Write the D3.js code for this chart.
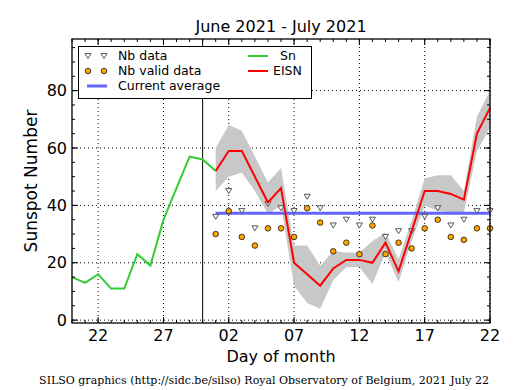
<!DOCTYPE html>
<html>
<head>
<meta charset="utf-8">
<title>SILSO - EISN June/July 2021</title>
<script src="https://cdnjs.cloudflare.com/ajax/libs/d3/7.8.5/d3.min.js"></script>
<style>
body {
  margin: 0px;
  background-color: #ffffff;
}
svg text {
  font-family: "DejaVu Sans", sans-serif;
  fill: #000;
}
.grid line {
  stroke: #000;
  stroke-width: 1;
  stroke-dasharray: 1,3;
}
.footer {
  font-family: "DejaVu Serif", serif !important;
}
</style>
</head>
<body>
<div class="target"></div>
<script>
// sunspot number (green), June 20 - July 1
var snDates = ["2021-06-20", "2021-06-21", "2021-06-22", "2021-06-23", "2021-06-24", "2021-06-25",
  "2021-06-26", "2021-06-27", "2021-06-28", "2021-06-29", "2021-06-30", "2021-07-01"];
var snValues = [15, 13, 16, 11, 11, 23, 19, 35, 46, 57, 56, 52];

// estimated ISN, July 1 - 22
var eisnDates = ["2021-07-01", "2021-07-02", "2021-07-03", "2021-07-04", "2021-07-05", "2021-07-06",
  "2021-07-07", "2021-07-08", "2021-07-09", "2021-07-10", "2021-07-11", "2021-07-12",
  "2021-07-13", "2021-07-14", "2021-07-15", "2021-07-16", "2021-07-17", "2021-07-18",
  "2021-07-19", "2021-07-20", "2021-07-21", "2021-07-22"];
var eisnValues = [52, 59, 59, 50, 41, 46, 20, 16, 12, 18, 21, 21, 20, 27, 17, 31, 45, 45, 44, 42, 65, 74];
var eisnHigh = [60, 68, 66, 57, 48, 53, 26, 26, 19, 24, 23.6, 23.5, 27.6, 30.5, 21.3, 34.6, 49.5, 50.5, 50.5, 45, 71, 80];
var eisnLow = [45, 50, 51.5, 45, 37, 40, 12, 6, 4, 14, 18.4, 18.5, 12.6, 23.6, 13.2, 27.6, 40, 38, 37.5, 37.5, 59, 67];
var nbData = [36, 45, 38, 32, 40.5, 39, 38, 43, 39, 33, 35, 33, 35, 29, 31, 31, 36, 39, 33, 35, 38, 38];
var nbValid = [30, 38, 29, 26, 32, 32, 29, 39, 34, 24, 27, 23, 33, 23, 27, 25, 32, 35, 29, 28, 32, 32];
var currentAverage = 37.3;

var xDomain = ["2021-06-20", "2021-07-22"];
var monthStart = "2021-06-30";
var xTicks = ["2021-06-22", "2021-06-27", "2021-07-02", "2021-07-07", "2021-07-12", "2021-07-17", "2021-07-22"];
var yTicks = [0, 20, 40, 60, 80];
var yDomain = [-1, 98];

var titleText = "June 2021 - July 2021";
var footerText = "SILSO graphics (http://sidc.be/silso) Royal Observatory of Belgium, 2021 July 22";

drawChart('.target');

function drawChart(target) {
  'use strict';

  var W = 515, H = 390,
    margin = {top: 39, right: 25, bottom: 67, left: 72},
    width = W - margin.left - margin.right,
    height = H - margin.top - margin.bottom,
    parse = d3.utcParse("%Y-%m-%d");

  var svg = d3.select(target).append('svg')
    .attr("width", W)
    .attr("height", H);

  var x = d3.scaleUtc()
    .domain(xDomain.map(parse))
    .range([0, width]);
  var y = d3.scaleLinear()
    .domain(yDomain)
    .range([height, 0]);

  var g = svg.append("g")
    .attr("transform", "translate(" + margin.left + "," + margin.top + ")");

  // grid
  var grid = g.append("g").attr("class", "grid");
  grid.selectAll(".gx").data(xTicks.map(parse)).enter().append("line")
    .attr("x1", function(d) { return x(d); }).attr("x2", function(d) { return x(d); })
    .attr("y1", 0).attr("y2", height);
  grid.selectAll(".gy").data(yTicks).enter().append("line")
    .attr("x1", 0).attr("x2", width)
    .attr("y1", function(d) { return y(d); }).attr("y2", function(d) { return y(d); });

  // error band
  var band = eisnDates.map(function(d, i) { return {date: parse(d), lo: eisnLow[i], hi: eisnHigh[i]}; });
  g.append("path")
    .datum(band)
    .attr("fill", "#c8c8c8")
    .attr("d", d3.area()
      .x(function(d) { return x(d.date); })
      .y0(function(d) { return y(d.lo); })
      .y1(function(d) { return y(d.hi); }));

  // vertical line at month change
  g.append("line")
    .attr("x1", x(parse(monthStart))).attr("x2", x(parse(monthStart)))
    .attr("y1", 0).attr("y2", height)
    .attr("stroke", "#000").attr("stroke-width", 1);

  var line = d3.line()
    .x(function(d) { return x(d.date); })
    .y(function(d) { return y(d.v); });

  // current average
  g.append("line")
    .attr("x1", x(parse(eisnDates[0]))).attr("x2", x(parse(eisnDates[eisnDates.length - 1])))
    .attr("y1", y(currentAverage)).attr("y2", y(currentAverage))
    .attr("stroke", "#6464ff").attr("stroke-width", 3);

  // Sn
  g.append("path")
    .datum(snDates.map(function(d, i) { return {date: parse(d), v: snValues[i]}; }))
    .attr("fill", "none").attr("stroke", "#32cd32").attr("stroke-width", 2)
    .attr("d", line);

  // nb data triangles
  g.selectAll(".tri").data(nbData).enter().append("path")
    .attr("transform", function(d, i) { return "translate(" + x(parse(eisnDates[i])) + "," + y(d) + ")"; })
    .attr("d", "M-3,-2.5L3,-2.5L0,2.5Z")
    .attr("fill", "#fff").attr("stroke", "#444").attr("stroke-width", 0.9);

  // EISN
  g.append("path")
    .datum(eisnDates.map(function(d, i) { return {date: parse(d), v: eisnValues[i]}; }))
    .attr("fill", "none").attr("stroke", "#ff0000").attr("stroke-width", 2)
    .attr("d", line);

  // nb valid data dots
  g.selectAll(".dot").data(nbValid).enter().append("circle")
    .attr("cx", function(d, i) { return x(parse(eisnDates[i])); })
    .attr("cy", function(d) { return y(d); })
    .attr("r", 2.8)
    .attr("fill", "#ffa500").attr("stroke", "#000").attr("stroke-width", 0.7);

  // axes: ticks inside on every side
  var days = d3.utcDay.range(parse(xDomain[0]), d3.utcDay.offset(parse(xDomain[1]), 1));
  var minorY = d3.range(0, 96, 5);
  drawTicks(g.append("g").attr("transform", "translate(0," + height + ")"), days, -3, true);
  drawTicks(g.append("g").attr("transform", "translate(0," + height + ")"), xTicks.map(parse), -6, true);
  drawTicks(g.append("g"), days, 3, true);
  drawTicks(g.append("g"), xTicks.map(parse), 6, true);
  drawTicks(g.append("g"), minorY, 3, false);
  drawTicks(g.append("g"), yTicks, 6, false);
  drawTicks(g.append("g").attr("transform", "translate(" + width + ",0)"), minorY, -3, false);
  drawTicks(g.append("g").attr("transform", "translate(" + width + ",0)"), yTicks, -6, false);

  g.append("rect")
    .attr("width", width).attr("height", height)
    .attr("fill", "none").attr("stroke", "#000").attr("stroke-width", 1.3);

  // tick labels
  var fmt = d3.utcFormat("%d");
  g.selectAll(".xl").data(xTicks.map(parse)).enter().append("text")
    .attr("x", function(d) { return x(d); })
    .attr("y", height + 18)
    .attr("text-anchor", "middle")
    .style("font-size", "16px")
    .text(fmt);
  g.selectAll(".yl").data(yTicks).enter().append("text")
    .attr("x", -5)
    .attr("y", function(d) { return y(d); })
    .attr("dy", "0.35em")
    .attr("text-anchor", "end")
    .style("font-size", "16px")
    .text(function(d) { return d; });

  // titles
  svg.append("text")
    .attr("x", margin.left + width / 2).attr("y", 32)
    .attr("text-anchor", "middle").style("font-size", "16px")
    .text(titleText);
  svg.append("text")
    .attr("x", margin.left + width / 2).attr("y", 362)
    .attr("text-anchor", "middle").style("font-size", "16px")
    .text("Day of month");
  svg.append("text")
    .attr("transform", "translate(37," + (margin.top + height / 2) + ") rotate(-90)")
    .attr("text-anchor", "middle").style("font-size", "17px")
    .text("Sunspot Number");
  svg.append("text")
    .attr("class", "footer")
    .attr("x", 264).attr("y", 384)
    .attr("text-anchor", "middle").style("font-size", "11px")
    .text(footerText);

  appendLegend();

  function drawTicks(sel, vals, len, isX) {
    sel.selectAll("line").data(vals).enter().append("line")
      .attr("x1", function(d) { return isX ? x(d) : 0; })
      .attr("x2", function(d) { return isX ? x(d) : len; })
      .attr("y1", function(d) { return isX ? 0 : y(d); })
      .attr("y2", function(d) { return isX ? len : y(d); })
      .attr("stroke", "#000").attr("stroke-width", 1);
  }

  function appendLegend() {
    var lg = svg.append("g");
    lg.append("rect")
      .attr("x", 78.5).attr("y", 46.5).attr("width", 233).attr("height", 52)
      .attr("fill", "#fff").attr("stroke", "#000").attr("stroke-width", 1);
    var rows = [56, 71, 86];
    [88, 104].forEach(function(px) {
      lg.append("path")
        .attr("transform", "translate(" + px + "," + rows[0] + ")")
        .attr("d", "M-3,-2.5L3,-2.5L0,2.5Z")
        .attr("fill", "#fff").attr("stroke", "#444").attr("stroke-width", 0.9);
      lg.append("circle")
        .attr("cx", px).attr("cy", rows[1]).attr("r", 2.8)
        .attr("fill", "#ffa500").attr("stroke", "#000").attr("stroke-width", 0.7);
    });
    lg.append("line").attr("x1", 87).attr("x2", 107).attr("y1", rows[2]).attr("y2", rows[2])
      .attr("stroke", "#6464ff").attr("stroke-width", 3);
    lg.append("line").attr("x1", 248).attr("x2", 268).attr("y1", rows[0]).attr("y2", rows[0])
      .attr("stroke", "#32cd32").attr("stroke-width", 2);
    lg.append("line").attr("x1", 248).attr("x2", 268).attr("y1", rows[1]).attr("y2", rows[1])
      .attr("stroke", "#ff0000").attr("stroke-width", 2);
    var labels = [
      {t: "Nb data", x: 118, y: rows[0]},
      {t: "Nb valid data", x: 118, y: rows[1]},
      {t: "Current average", x: 118, y: rows[2]},
      {t: "Sn", x: 280, y: rows[0]},
      {t: "EISN", x: 273, y: rows[1]}
    ];
    lg.selectAll(".lt").data(labels).enter().append("text")
      .attr("x", function(d) { return d.x; })
      .attr("y", function(d) { return d.y; })
      .attr("dy", "0.35em")
      .style("font-size", "12.5px")
      .text(function(d) { return d.t; });
  }
}
</script>
</body>
</html>
